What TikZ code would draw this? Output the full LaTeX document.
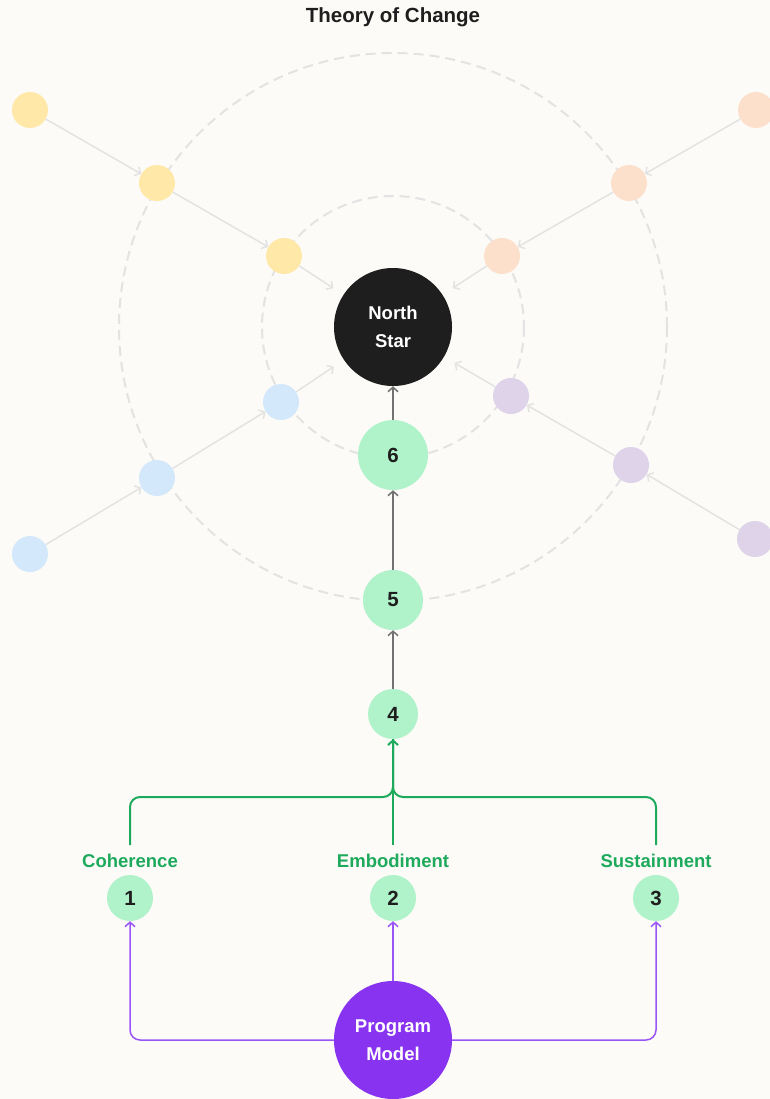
\documentclass[tikz,border=0pt]{standalone}
\usepackage{fontspec}
\setmainfont{Liberation Sans}
\usetikzlibrary{arrows.meta,backgrounds}
\definecolor{paper}{HTML}{FCFBF7}
\definecolor{ink}{HTML}{1E1E1E}
\definecolor{mint}{HTML}{B0F2CA}
\definecolor{leaf}{HTML}{1DAA5C}
\definecolor{violet}{HTML}{8833F0}
\definecolor{lilac}{HTML}{9A55F7}
\definecolor{ring}{HTML}{E3E3E3}
\definecolor{stem}{HTML}{727272}
\definecolor{sun}{HTML}{FFE8A8}
\definecolor{peach}{HTML}{FCE0CC}
\definecolor{sky}{HTML}{D3E8FB}
\definecolor{plum}{HTML}{DFD3EA}

\begin{document}
\begin{tikzpicture}[x=1pt,y=-1pt,font=\bfseries]
	% `dot' is used for the small outer circles.
	% `stage' is used for the green numbered steps.
	\tikzstyle{dot} = [circle,inner sep=0pt,minimum size=36pt]
	\tikzstyle{big} = [circle,inner sep=0pt,minimum size=118pt,text=white,align=center,
		font=\bfseries\fontsize{18.5}{28}\selectfont]
	\tikzstyle{stage} = [circle,inner sep=0pt,fill=mint,text=ink,font=\bfseries\fontsize{20.5}{22}\selectfont]
	\tikzstyle{label} = [text=leaf,font=\bfseries\fontsize{18.5}{20}\selectfont]
	\tikzstyle{faint} = [draw=ring,line width=1.5pt,-{Straight Barb[length=4.5pt,width=10pt]}]
	\tikzstyle{main} = [draw=stem,line width=1.5pt,-{Straight Barb[length=4.5pt,width=10pt]}]
	\tikzstyle{merge} = [draw=leaf,line width=2pt,rounded corners=10pt]
	\tikzstyle{feed} = [draw=lilac,line width=1.5pt,rounded corners=10pt,-{Straight Barb[length=4.5pt,width=10pt]}]
	\useasboundingbox (0,0) rectangle (770,1099);
	%
	\node[font=\bfseries\fontsize{20.5}{22}\selectfont,text=ink] (title) at (393,17) {Theory of Change};
	% Centre and stages.
	\node[big,fill=ink] (ns) at (393,327) {North\\Star};
	\node[stage,minimum size=70pt] (s6) at (393,455) {6};
	\node[stage,minimum size=60pt] (s5) at (393,600) {5};
	\node[stage,minimum size=50pt] (s4) at (393,714) {4};
	\node[stage,minimum size=46pt] (s1) at (130,898) {1};
	\node[stage,minimum size=46pt] (s2) at (393,898) {2};
	\node[stage,minimum size=46pt] (s3) at (656,898) {3};
	\node[label] (coh) at (130,861) {Coherence};
	\node[label] (emb) at (393,861) {Embodiment};
	\node[label] (sus) at (656,861) {Sustainment};
	\node[big,fill=violet] (pm) at (393,1040) {Program\\Model};
	% Outer circles.
	\node[dot,fill=sun] (y1) at (30,110) {};
	\node[dot,fill=sun] (y2) at (157,183) {};
	\node[dot,fill=sun] (y3) at (284,256) {};
	\node[dot,fill=peach] (o1) at (756,110) {};
	\node[dot,fill=peach] (o2) at (629,183) {};
	\node[dot,fill=peach] (o3) at (502,256) {};
	\node[dot,fill=sky] (b1) at (281,402) {};
	\node[dot,fill=sky] (b2) at (157,478) {};
	\node[dot,fill=sky] (b3) at (30,554) {};
	\node[dot,fill=plum] (p1) at (511,396) {};
	\node[dot,fill=plum] (p2) at (631,465) {};
	\node[dot,fill=plum] (p3) at (755,539) {};
	\begin{pgfonlayer}{background}
		% Paper and rings.
		\fill[paper] (0,0) rectangle (770,1099);
		\draw[ring,line width=2pt,dash pattern=on 10pt off 6pt] (ns.center) circle[radius=274];
		\draw[ring,line width=2pt,dash pattern=on 10pt off 6pt] (ns.center) circle[radius=131];
		% Faint arrows towards the centre.
		\draw[faint] (y1) -- (y2);
		\draw[faint] (y2) -- (y3);
		\draw[faint,shorten >=12pt] (y3) -- (ns);
		\draw[faint] (o1) -- (o2);
		\draw[faint] (o2) -- (o3);
		\draw[faint,shorten >=12pt] (o3) -- (ns);
		\draw[faint] (b3) -- (b2);
		\draw[faint] (b2) -- (b1);
		\draw[faint,shorten >=12pt] (b1) -- (ns);
		\draw[faint] (p3) -- (p2);
		\draw[faint] (p2) -- (p1);
		\draw[faint,shorten >=12pt] (p1) -- (ns);
		% Main spine.
		\draw[main] (s6) -- (ns);
		\draw[main] (s5) -- (s6);
		\draw[main] (s4) -- (s5);
		\draw[merge] (130,845) -- (130,797) -- (393,797) -- (s4.south);
		\draw[merge] (656,845) -- (656,797) -- (393,797) -- (s4.south);
		\draw[merge,-{Straight Barb[length=4.5pt,width=10pt]}] (393,845) -- (s4);
		% Program model feeds.
		\draw[feed] (pm.west) -- (s1.south |- pm.west) -- (s1.south);
		\draw[feed] (pm.east) -- (s3.south |- pm.east) -- (s3.south);
		\draw[feed] (pm) -- (s2);
	\end{pgfonlayer}
\end{tikzpicture}
\end{document}
